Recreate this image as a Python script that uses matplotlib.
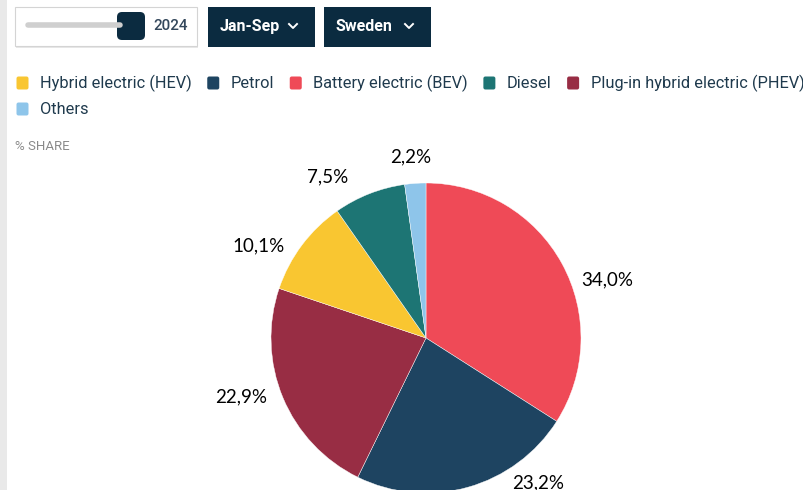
import numpy as np
import matplotlib
matplotlib.use('Agg')
from matplotlib import pyplot as plt
import matplotlib.patches as mpatches

# share of new cars by fuel type, Sweden Jan-Sep 2024 (order as drawn, clockwise from 12 o'clock)
fuel_types = ['Battery electric (BEV)', 'Petrol', 'Plug-in hybrid electric (PHEV)',
              'Hybrid electric (HEV)', 'Diesel', 'Others']
shares = [34.0, 23.2, 22.9, 10.1, 7.5, 2.2]
colors = ['#ef4a57', '#1e4461', '#982d44', '#f9c631', '#1d7574', '#8ec5ea']

# legend order shown above the chart
legend_order = ['Hybrid electric (HEV)', 'Petrol', 'Battery electric (BEV)', 'Diesel',
                'Plug-in hybrid electric (PHEV)', 'Others']

year_label = '2024'
period_label = 'Jan-Sep'
country_label = 'Sweden'

navy = '#0b2b40'
legend_text = '#1f3a4d'

fig = plt.figure(figsize=(8.04, 4.9), dpi=100)
ax = fig.add_axes([0, 0, 1, 1])
ax.set_xlim(0, 804)
ax.set_ylim(490, 0)
ax.set_aspect('equal')
ax.axis('off')

# grey strip at the left edge
ax.add_patch(mpatches.Rectangle((0, 0), 7, 490, color='#e9e9e9', lw=0))

# year slider box
ax.add_patch(mpatches.Rectangle((16, 8), 182, 40, facecolor='#d9d9d9', lw=0, alpha=0.6))
ax.add_patch(mpatches.Rectangle((15, 7), 182, 39, facecolor='white', edgecolor='#d4d4d4', lw=0.8))
ax.plot([28, 120], [25, 25], color='#cfcfcf', lw=4, solid_capstyle='round')
ax.add_patch(mpatches.FancyBboxPatch((119, 14), 24, 24, boxstyle='round,pad=2,rounding_size=5',
                                     facecolor=navy, lw=0))
ax.text(153, 26, year_label, fontsize=11, color='#33475b', family='Roboto',
        fontweight='medium', va='center', ha='left')

# dropdown buttons
def dropdown(x0, w, label):
    ax.add_patch(mpatches.Rectangle((x0, 7), w, 40, facecolor=navy, lw=0))
    ax.text(x0 + 12, 26, label, fontsize=11.5, color='white', family='Roboto',
            fontweight='bold', va='center', ha='left')
    cx = x0 + w - 22
    ax.plot([cx - 4, cx, cx + 4], [24, 28, 24], color='white', lw=1.4)

dropdown(208, 107, period_label)
dropdown(324, 107, country_label)

# legend
x = 16
y = 83
for name in legend_order:
    if name == 'Others':
        x = 16
        y = 109
    c = colors[fuel_types.index(name)]
    ax.add_patch(mpatches.FancyBboxPatch((x + 1, y - 6), 11, 12, boxstyle='round,pad=0.5,rounding_size=2',
                                         facecolor=c, lw=0))
    t = ax.text(x + 24, y, name, fontsize=11.8, color=legend_text, family='Roboto',
                va='center', ha='left')
    fig.canvas.draw()
    bb = t.get_window_extent()
    x = x + 24 + bb.width + 15

ax.text(15, 146, '% SHARE', fontsize=9.5, color='#8a8a8a', family='Roboto', va='center', ha='left')

# pie
cx, cy, r = 426, 338, 155
wedges, _ = ax.pie(shares, colors=colors, startangle=-90, counterclock=True,
                   center=(cx, cy), radius=r, frame=True,
                   wedgeprops=dict(edgecolor='white', linewidth=0.3))
ax.set_xlim(0, 804)
ax.set_ylim(490, 0)
ax.axis('off')

# outside labels, nudged like the original layout
nudge = [11, -22, 5, -8, -10, -1]
dist = [1.23, 1.18, 1.25, 1.23, 1.22, 1.17]
for w, val, dn, dd in zip(wedges, shares, nudge, dist):
    mid = np.deg2rad((w.theta1 + w.theta2) / 2 + dn)
    lx = cx + r * dd * np.cos(mid)
    ly = cy + r * dd * np.sin(mid)
    ax.text(lx, ly, f'{val:.1f}%'.replace('.', ','), fontsize=13.5, family='Lato',
            color='black', ha='center', va='center')

fig.savefig('out.png', dpi=100)
